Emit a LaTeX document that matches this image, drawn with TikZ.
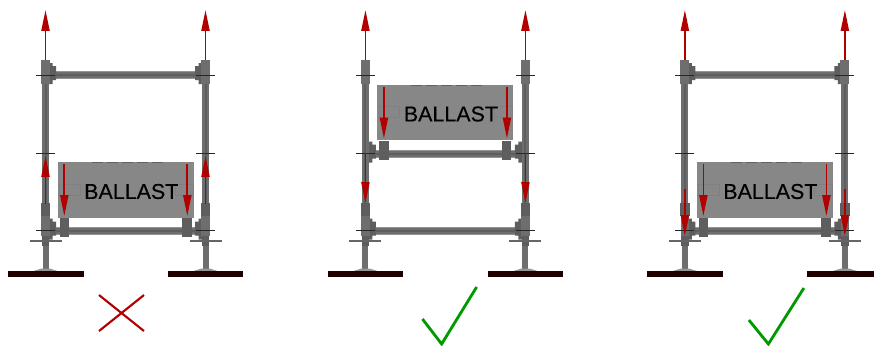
\documentclass[tikz,border=0pt]{standalone}
\usepackage{fontspec}
\setmainfont{Liberation Sans}
\usetikzlibrary{arrows.meta}

\begin{document}
\begin{tikzpicture}[
  x=0.02cm, y=-0.02cm,
  steel/.style={fill=black!57, draw=none},
  steeldark/.style={fill=black!63, draw=none},
  steellight/.style={fill=black!42, draw=none},
  tick/.style={draw=black!85, line width=0.6pt},
  wing/.style={draw=black!60, line width=0.85pt},
  ground/.style={fill=black!88!red, draw=none},
  force/.style={-{Triangle[length=11.9pt, width=4.6pt]}, draw=red!70!black, line width=1pt},
  crossmark/.style={draw=red!70!black, line width=1.2pt},
  checkmark/.style={draw=green!60!black, line width=1.6pt},
  ballastbox/.style={fill=black!47, draw=none, minimum width=2.72cm, minimum height=1.11cm, inner sep=0pt},
  ballasttext/.style={font=\fontsize{12.2}{14}\selectfont\addfontfeature{FakeBold=0.2}, text=black, inner sep=0pt},
  clamp/.pic={
    \fill[steeldark] (3,-12) -- (7,-12) -- (7,-9) -- (10.5,-9) -- (10.5,5) -- (7,5) -- (7,9) -- (3,9) -- cycle;
  },
  rail/.pic={
    \fill[steellight] (9,-4) rectangle (151,4);
    \fill[steel] (9,-3) rectangle (151,3);
    \fill[steeldark] (9,-1) rectangle (151,1);
    \pic at (0,0) {clamp};
    \pic[xscale=-1] at (160,0) {clamp};
  },
  railfeet/.pic={
    \fill[steeldark] (14,-13) rectangle (23.5,6);
    \fill[steeldark] (136.5,-13) rectangle (146,6);
  },
  post/.pic={
    \fill[steel] (-3.5,84) rectangle (3.5,241);
    \fill[steeldark] (-1,84) rectangle (1,241);
    \fill[steel] (-4.5,59.5) rectangle (4.5,84);
    \fill[steeldark] (-4.7,203) rectangle (4.7,216);
    \fill[steel] (-4.2,216) rectangle (4.2,236);
    \fill[steel] (-3,245) rectangle (3,270);
    \fill[steeldark] (-3.8,236) rectangle (3.8,246);
    \fill[steellight] (-12,271) -- (-4,268.5) -- (4,268.5) -- (12,271) -- cycle;
    \draw[wing] (-16,241) -- (16,241);
    \foreach \y in {75.5,153.5,230.5}
      \draw[tick] (-9.5,\y) -- (9.5,\y);
  },
  ballast/.pic={
    \node[ballastbox] (box) at (0,0) {};
    \foreach \x in {-34,-19,-4,11,26}
      \fill[black!62] (\x,-28) rectangle ++(11,1);
    \draw[black!50, line width=0.3pt] (-66.5,-6) rectangle (-46,5);
    \draw[black!50, line width=0.3pt] (49,-6) rectangle (67,5);
    \node[ballasttext] (label) at (5.5,1.5) {BALLAST};
    \draw[force] (-61.5,-26) -- (-61.5,26);
    \draw[force] (61.5,-26) -- (61.5,26);
  },
]

\useasboundingbox (0,0) rectangle (874,345);

% first frame
\pic at (45.5,75) {rail};
\pic at (45.5,230.5) {rail};
\pic at (45.5,230.5) {railfeet};
\foreach \x in {45.5,205.5} {
  \pic at (\x,0) {post};
  \draw[force] (\x,60) -- (\x,10);
  \draw[force] (\x,204) -- (\x,156);
}
\pic at (125.8,190) {ballast};
\path[ground] (8,271) rectangle (83.5,276.5);
\path[ground] (168,271) rectangle (243,276.5);
\draw[crossmark] (99,295) -- (144,331);
\draw[crossmark] (144,295) -- (99,331);

% second frame
\begin{scope}[xshift=6.4cm]
\pic at (45.5,230.5) {rail};
\pic at (45.5,153.5) {rail};
\pic at (45.5,153.5) {railfeet};
\foreach \x in {45.5,205.5} {
  \pic at (\x,0) {post};
  \draw[force] (\x,60) -- (\x,10);
  \draw[force] (\x,153) -- (\x,203);
}
\pic at (125.5,112.5) {ballast};
\path[ground] (8,271) rectangle (83.5,276.5);
\path[ground] (168,271) rectangle (243.5,276.5);
\draw[checkmark] (102.5,319) -- (121.7,344) -- (156.7,287);
\end{scope}

% third frame
\begin{scope}[xshift=12.79cm]
\pic at (45.5,75) {rail};
\pic at (45.5,230.5) {rail};
\pic at (45.5,230.5) {railfeet};
\foreach \x in {45.5,205.5} {
  \pic at (\x,0) {post};
  \draw[force] (\x,60) -- (\x,10);
  \draw[force] (\x,189) -- (\x,236);
}
\pic at (125.5,190) {ballast};
\path[ground] (8,271) rectangle (83.5,276.5);
\path[ground] (167.5,271) rectangle (234.5,276.5);
\draw[checkmark] (109.5,320) -- (129,344) -- (164.5,288);
\end{scope}

\end{tikzpicture}
\end{document}
